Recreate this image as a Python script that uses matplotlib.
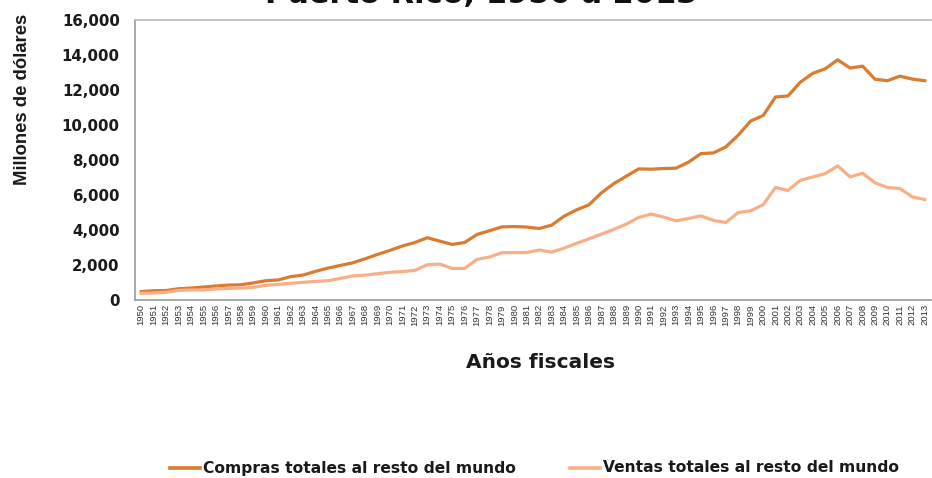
import matplotlib
matplotlib.use("Agg")
import matplotlib.pyplot as plt
from matplotlib.lines import Line2D

plt.rcParams['font.family'] = ['DejaVu Sans']

years = list(range(1950, 2014))
compras = [480, 530, 540, 640, 680, 740, 800, 850, 870, 970,
           1100, 1140, 1330, 1420, 1630, 1820, 1970, 2120, 2350, 2600,
           2830, 3080, 3280, 3550, 3360, 3170, 3280, 3740, 3950, 4170,
           4190, 4160, 4080, 4270, 4780, 5140, 5430, 6110, 6640, 7060,
           7480, 7460, 7500, 7520, 7860, 8350, 8390, 8730, 9400, 10210,
           10520, 11580, 11640, 12430, 12930, 13190, 13700, 13230, 13340, 12590,
           12510, 12770, 12600, 12510]
ventas = [380, 400, 440, 550, 570, 570, 630, 660, 680, 720,
          840, 890, 950, 1010, 1060, 1100, 1230, 1370, 1420, 1500,
          1580, 1620, 1690, 2010, 2050, 1800, 1800, 2320, 2450, 2700,
          2700, 2710, 2850, 2730, 2960, 3230, 3490, 3760, 4030, 4330,
          4710, 4900, 4730, 4520, 4650, 4800, 4540, 4420, 4990, 5090,
          5430, 6420, 6250, 6830, 7020, 7210, 7650, 7020, 7230, 6680,
          6420, 6360, 5880, 5730]
y_ticks = [0, 2000, 4000, 6000, 8000, 10000, 12000, 14000, 16000]
title = "Puerto Rico, 1950 a 2013"
label_compras = "Compras totales al resto del mundo"
label_ventas = "Ventas totales al resto del mundo"

c_dark = "#DB7B30"
c_light = "#F9AF85"
txt = "#1A1A1A"

W, H = 932, 478
fig = plt.figure(figsize=(W / 100, H / 100), dpi=100)
ax = fig.add_axes([135 / W, 1 - 300 / H, (931 - 135) / W, (300 - 19.5) / H])

x = list(range(len(years)))
ax.plot(x, compras, color=c_dark, lw=2.3, solid_joinstyle='round')
ax.plot(x, ventas, color=c_light, lw=2.3, solid_joinstyle='round')

ax.set_xlim(-0.5, len(years) - 0.5)
ax.set_ylim(0, 16000)
ax.set_yticks(y_ticks)
ax.set_yticklabels([f"{v:,}" for v in y_ticks], fontsize=10.8, fontweight='bold', color=txt)
ax.set_xticks(x)
ax.set_xticklabels([str(y) for y in years], rotation=90, fontsize=6.8, color='#333333',
                   family=['Liberation Sans', 'DejaVu Sans'])
ax.tick_params(axis='y', length=0, pad=11)
ax.tick_params(axis='x', length=0, pad=3)

ax.spines['right'].set_visible(False)
ax.spines['top'].set_color('#BBBBBB')
ax.spines['left'].set_color('#999999')
ax.spines['bottom'].set_color('#999999')
for s in ['top', 'left', 'bottom']:
    ax.spines[s].set_linewidth(1.2)

fig.text(481 / W, 1 - 3 / H, title, ha='center', va='baseline', fontsize=22, fontweight='bold', color='#111111')
fig.text(23 / W, 1 - 99 / H, "Millones de dólares", rotation=90, ha='center', va='center',
         fontsize=13.3, fontweight='bold', color=txt, family=['Liberation Sans', 'DejaVu Sans'])
fig.text(540 / W, 1 - 362 / H, "Años fiscales", ha='center', va='center', fontsize=14.5,
         fontweight='bold', color=txt)

# legend (manual placement)
ly = 1 - 468 / H
for (x0, x1, tx, col, lab) in [(170, 200, 203, c_dark, label_compras),
                               (570, 600, 603, c_light, label_ventas)]:
    fig.add_artist(Line2D([x0 / W, x1 / W], [ly, ly], color=col, lw=2.6, transform=fig.transFigure))
    fig.text(tx / W, ly, lab, ha='left', va='center', fontsize=11.2, fontweight='bold', color=txt)

fig.savefig("out.png", dpi=100)
